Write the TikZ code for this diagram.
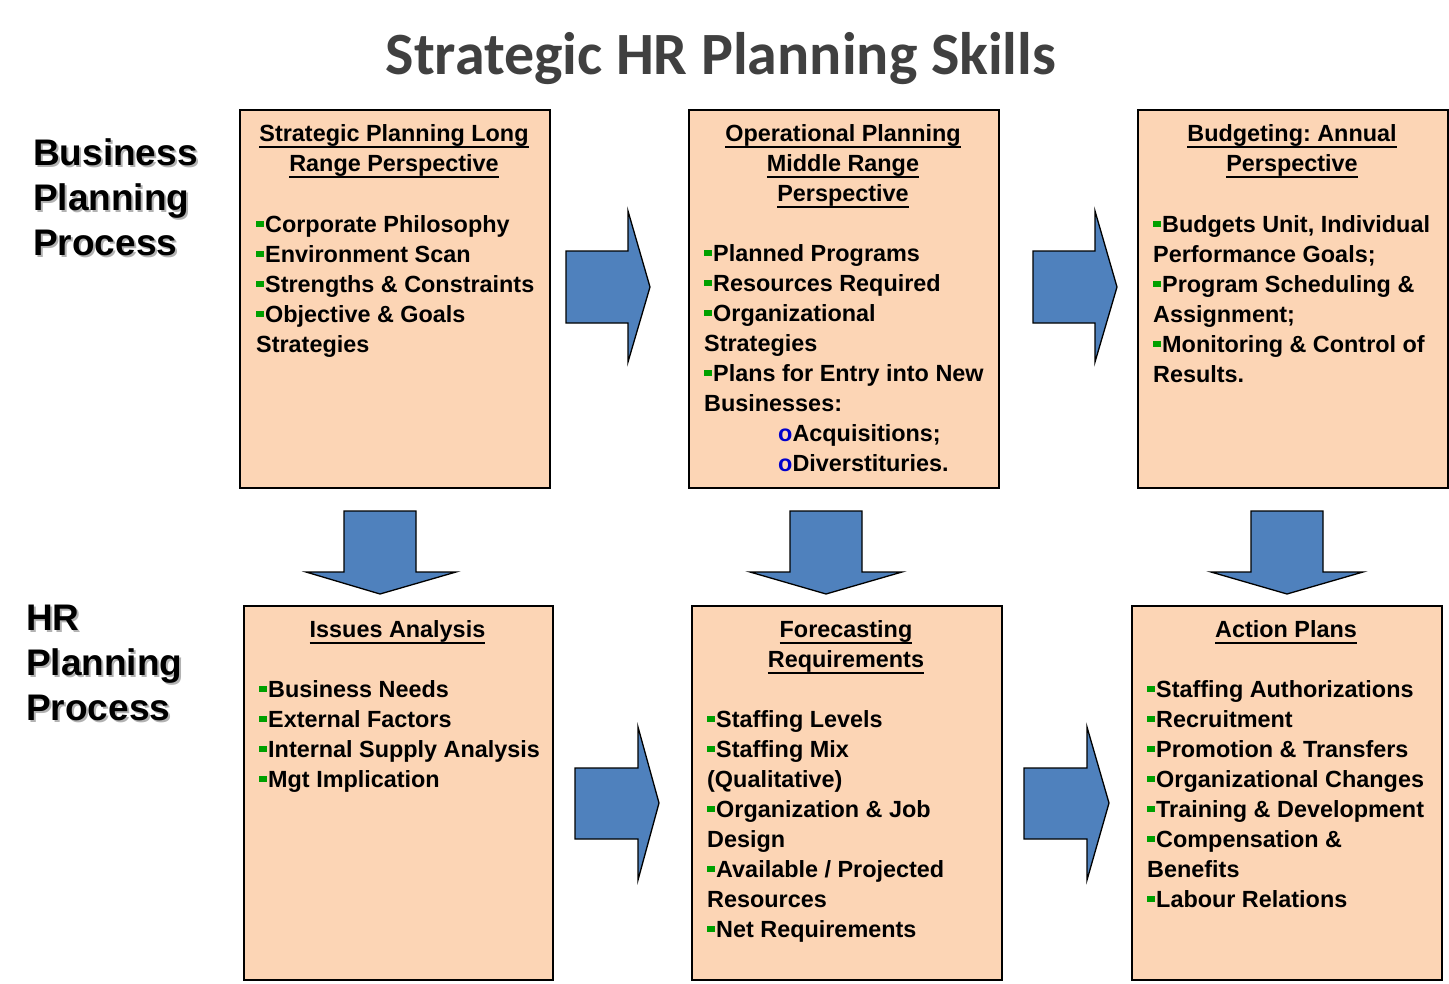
\documentclass[tikz,border=0pt]{standalone}
\usepackage{fontspec}
\setmainfont{Liberation Sans}
\newfontfamily\titlefont{Carlito}
\frenchspacing
\definecolor{boxfill}{HTML}{FCD5B5}
\definecolor{arrowfill}{HTML}{4F81BD}
\definecolor{bulgreen}{HTML}{00A000}
\definecolor{subblue}{HTML}{0000CC}
\definecolor{titlegray}{HTML}{404040}
\newcommand\gb{\textcolor{bulgreen}{\rule[5pt]{8pt}{6.5pt}}\hspace{1pt}}
\newcommand\subb{\textcolor{subblue}{o}}
\newcommand\hdr[1]{\setbox0\hbox{#1}\rlap{\rule[-6.5pt]{\wd0}{2pt}}\box0}
\newcommand\bodyfont{\fontsize{23.4}{30}\selectfont\bfseries\frenchspacing}
\tikzset{
  box/.style={draw=black, line width=1.5pt, fill=boxfill, inner sep=0pt, anchor=north west, minimum width=310, minimum height=378},
  hd/.style={anchor=north, inner sep=0pt, align=center, font=\bodyfont},
  bd/.style={anchor=north west, inner sep=0pt, align=left, font=\bodyfont},
  blk/.style={draw=black, line width=1.3pt, fill=arrowfill, line join=miter},
  lbl/.style={anchor=north west, inner sep=0pt, align=left, font=\fontsize{37}{45}\selectfont\bfseries},
}
\begin{document}
\begin{tikzpicture}[x=1pt,y=-1pt]
\useasboundingbox (0,0) rectangle (1449,983);
\fill[white] (0,0) rectangle (1449,983);

% title
\node[anchor=base, inner sep=0pt, font=\titlefont\fontsize{60}{72}\selectfont\bfseries, text=titlegray] (title) at (721,74) {Strategic HR Planning Skills};

% side labels
\node[lbl, text=black!30] (l1s) at (35,135.5) {\strut Business\\Planning\\Process};
\node[lbl] (l1) at (33,133.5) {\strut Business\\Planning\\Process};
\node[lbl, text=black!30] (l2s) at (28,600.5) {\strut HR\\Planning\\Process};
\node[lbl] (l2) at (26,598.5) {\strut HR\\Planning\\Process};

% boxes
\node[box] (b1) at (239,109) {};
\node[box] (b2) at (688,109) {};
\node[box] (b3) at (1137,109) {};
\node[box, minimum width=309, minimum height=374] (b4) at (243,605) {};
\node[box, minimum height=374] (b5) at (691,605) {};
\node[box, minimum height=374] (b6) at (1131,605) {};

% box 1
\node[hd] (h1) at (394,120) {\strut\hdr{Strategic Planning Long}\\\hdr{Range Perspective}};
\node[bd] (t1) at (256,211) {\strut\gb Corporate Philosophy\\
\gb Environment Scan\\
\gb Strengths \& Constraints\\
\gb Objective \& Goals\\
Strategies};

% box 2
\node[hd] (h2) at (843,120) {\strut\hdr{Operational Planning}\\\hdr{Middle Range}\\\hdr{Perspective}};
\node[bd] (t2) at (704,240) {\strut\gb Planned Programs\\
\gb Resources Required\\
\gb Organizational\\
Strategies\\
\gb Plans for Entry into New\\
Businesses:\\
\hspace*{74pt}\subb Acquisitions;\\
\hspace*{74pt}\subb Diverstituries.};

% box 3
\node[hd] (h3) at (1292,120) {\strut\hdr{Budgeting: Annual}\\\hdr{Perspective}};
\node[bd] (t3) at (1153,211) {\strut\gb Budgets Unit, Individual\\
Performance Goals;\\
\gb Program Scheduling \&\\
Assignment;\\
\gb Monitoring \& Control of\\
Results.};

% box 4
\node[hd] (h4) at (397.5,616) {\strut\hdr{Issues Analysis}};
\node[bd] (t4) at (259,676) {\strut\gb Business Needs\\
\gb External Factors\\
\gb Internal Supply Analysis\\
\gb Mgt Implication};

% box 5
\node[hd] (h5) at (846,616) {\strut\hdr{Forecasting}\\\hdr{Requirements}};
\node[bd] (t5) at (707,706) {\strut\gb Staffing Levels\\
\gb Staffing Mix\\
(Qualitative)\\
\gb Organization \& Job\\
Design\\
\gb Available / Projected\\
Resources\\
\gb Net Requirements};

% box 6
\node[hd] (h6) at (1286,616) {\strut\hdr{Action Plans}};
\node[bd] (t6) at (1147,676) {\strut\gb Staffing Authorizations\\
\gb Recruitment\\
\gb Promotion \& Transfers\\
\gb Organizational Changes\\
\gb Training \& Development\\
\gb Compensation \&\\
Benefits\\
\gb Labour Relations};

% right block arrows
\draw[blk] (566,251) -- (628,251) -- (628,211) -- (650,287) -- (628,362) -- (628,323) -- (566,323) -- cycle;
\draw[blk] (1033,251) -- (1095,251) -- (1095,211) -- (1117,287) -- (1095,362) -- (1095,323) -- (1033,323) -- cycle;
\draw[blk] (575,768) -- (638,768) -- (638,727) -- (659,803) -- (638,880) -- (638,839) -- (575,839) -- cycle;
\draw[blk] (1024,768) -- (1087,768) -- (1087,727) -- (1109,803) -- (1087,880) -- (1087,839) -- (1024,839) -- cycle;

% down block arrows
\draw[blk] (344,511) -- (416,511) -- (416,572) -- (456,572) -- (380,594) -- (306,572) -- (344,572) -- cycle;
\draw[blk] (790,511) -- (862,511) -- (862,572) -- (902,572) -- (826,594) -- (750,572) -- (790,572) -- cycle;
\draw[blk] (1251,511) -- (1323,511) -- (1323,572) -- (1363,572) -- (1287,594) -- (1211,572) -- (1251,572) -- cycle;
\end{tikzpicture}
\end{document}
